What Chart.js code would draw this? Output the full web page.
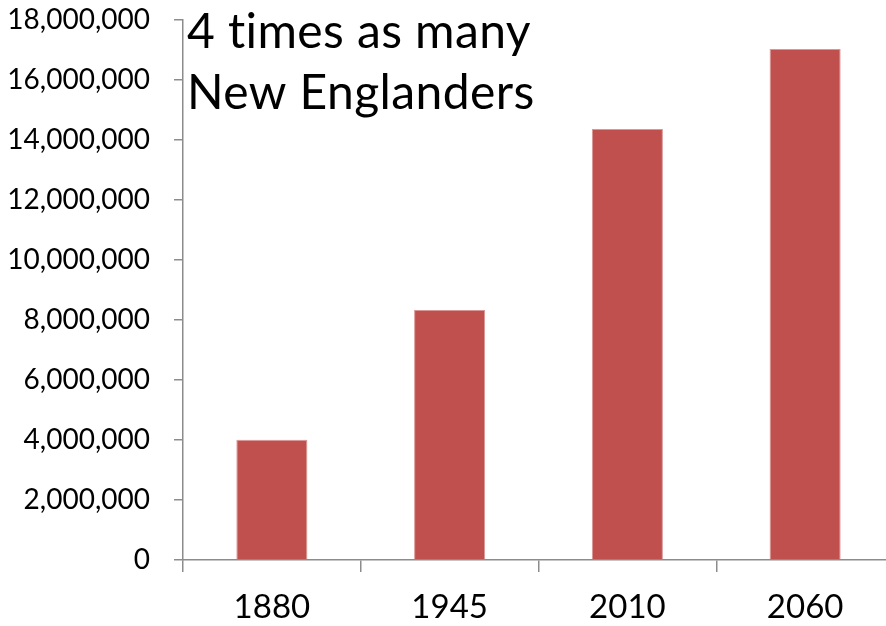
<!DOCTYPE html>
<html>
<head>
<meta charset="utf-8">
<script src="https://cdn.jsdelivr.net/npm/chart.js@4"></script>
<style>
  html, body { margin: 0; padding: 0; background: #fff; overflow: hidden; }
  #wrap { width: 896px; height: 626px; }
</style>
</head>
<body>
<div id="wrap"><canvas id="c" width="896" height="626"></canvas></div>
<script>
// Population of New England, by year
const years = ['1880', '1945', '2010', '2060'];
const population = [4010000, 8330000, 14370000, 17030000];
const headline = ['4 times as many', 'New Englanders'];

const FONT = 'Lato, "Open Sans", sans-serif';
const AXIS_GREY = '#8c8c8c';

// Headline text in the top-left corner of the plot
const headlinePlugin = {
  id: 'headline',
  afterDraw(chart) {
    const { ctx, chartArea } = chart;
    ctx.save();
    ctx.fillStyle = '#000';
    ctx.font = '48px ' + FONT;
    ctx.letterSpacing = '0.4px';
    ctx.textBaseline = 'alphabetic';
    ctx.textAlign = 'left';
    headline.forEach((line, i) => {
      ctx.fillText(line, chartArea.left + 4, 48 + i * 61);
    });
    ctx.restore();
  }
};

new Chart(document.getElementById('c'), {
  type: 'bar',
  data: {
    labels: years,
    datasets: [{
      data: population,
      backgroundColor: '#c0504d',
      borderColor: '#d99694',
      borderWidth: 1,
      barPercentage: 0.4,
      categoryPercentage: 1.0
    }]
  },
  options: {
    responsive: false,
    animation: false,
    layout: { padding: { top: 20, right: 2, left: 0, bottom: 0 } },
    plugins: { legend: { display: false }, tooltip: { enabled: false } },
    scales: {
      x: {
        offset: true,
        grid: { display: true, drawOnChartArea: false, offset: true, tickLength: 12, color: AXIS_GREY, lineWidth: 1.5 },
        border: { display: true, color: AXIS_GREY, width: 1.5 },
        ticks: { color: '#000', font: { family: FONT, size: 33 }, padding: 16 },
        afterFit(scale) { scale.height = 66; scale.paddingLeft = 0; scale.paddingRight = 0; }
      },
      y: {
        min: 0,
        max: 18000000,
        grid: { display: true, drawOnChartArea: false, tickLength: 9, color: AXIS_GREY, lineWidth: 1.5 },
        border: { display: true, color: AXIS_GREY, width: 1.5 },
        ticks: {
          stepSize: 2000000,
          color: '#000',
          font: { family: FONT, size: 28 },
          padding: 24,
          callback: (v) => v.toLocaleString('en-US')
        },
        afterFit(scale) { scale.width = 183; scale.paddingTop = 0; scale.paddingBottom = 0; }
      }
    }
  },
  plugins: [headlinePlugin]
});
</script>
</body>
</html>
